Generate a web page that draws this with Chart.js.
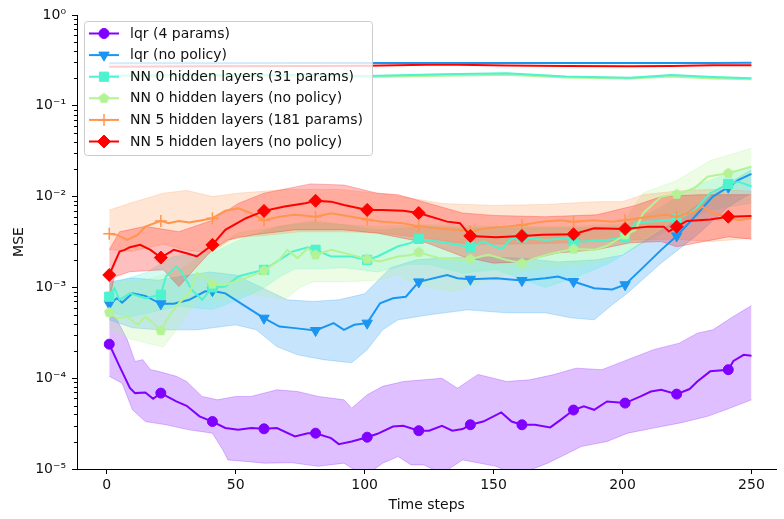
<!DOCTYPE html>
<html>
<head>
<meta charset="utf-8">
<script src="https://cdn.jsdelivr.net/npm/chart.js@4.4.0/dist/chart.umd.min.js"></script>
<style>
  html, body { margin: 0; padding: 0; background: #fff; }
</style>
</head>
<body>
<canvas id="myChart" width="784" height="519"></canvas>
<script>
// ---- data ----
const xTicks = [0, 50, 100, 150, 200, 250];
const yMajor = [1e-5, 1e-4, 1e-3, 1e-2, 1e-1, 1];
const yTickLabels = ['10⁻⁵', '10⁻⁴', '10⁻³', '10⁻²', '10⁻¹', '10⁰'];

// lqr (4 params)
const lqr4X = [1,5,9,11,15,18,21,27,31,36,41,46,51,56,61,66,73,78,81,87,90,95,101,105,111,115,121,125,130,134,138,141,146,153,157,161,166,172,176,181,185,189,194,201,207,211,215,221,226,229,234,241,243,247,250];
const lqr4Y = [2.37e-4,1.35e-4,7.8e-5,6.85e-5,6.97e-5,5.93e-5,6.85e-5,5.55e-5,4.97e-5,3.8e-5,3.33e-5,2.83e-5,2.7e-5,2.82e-5,2.77e-5,2.82e-5,2.28e-5,2.48e-5,2.48e-5,2.19e-5,1.88e-5,2.01e-5,2.24e-5,2.44e-5,2.94e-5,2.99e-5,2.64e-5,2.64e-5,2.99e-5,2.64e-5,2.75e-5,3.07e-5,3.33e-5,4.2e-5,3.33e-5,3.07e-5,3.07e-5,2.87e-5,3.48e-5,4.46e-5,4.9e-5,4.49e-5,5.55e-5,5.32e-5,6.3e-5,7.14e-5,7.45e-5,6.68e-5,7.6e-5,9.2e-5,1.19e-4,1.24e-4,1.55e-4,1.81e-4,1.77e-4];
const lqr4HiX = [1,4,8,11,14,17,20,27,31,37,43,50,56,66,74,82,92,95,101,107,115,123,130,136,144,155,164,173,182,192,202,212,222,229,235,243,250];
const lqr4Hi = [5.2e-4,4.4e-4,2.65e-4,1.53e-4,1.6e-4,1.24e-4,1.19e-4,1.05e-4,9.2e-5,6.3e-5,5.78e-5,6.3e-5,6.3e-5,7.45e-5,7.14e-5,6.3e-5,5.78e-5,4.68e-5,6.56e-5,8.13e-5,9.2e-5,9.6e-5,1.0e-4,7.76e-5,1.1e-4,9.2e-5,9.6e-5,1.09e-4,1.29e-4,1.24e-4,1.6e-4,2.06e-4,2.43e-4,3.13e-4,3.41e-4,4.79e-4,6.3e-4];
const lqr4LoX = [1,6,10,15,23,32,41,45,47,54,61,72,82,92,100,107,113,118,123,130,138,151,158,166,171,179,184,194,202,212,222,233,240,250];
const lqr4Lo = [1.05e-4,8.8e-5,4.49e-5,3.33e-5,3.07e-5,2.7e-5,2.48e-5,1.63e-5,1.26e-5,1.21e-5,1.16e-5,1.17e-5,1.07e-5,1.16e-5,8.3e-6,1.16e-5,1.37e-5,1.11e-5,1.11e-5,8.9e-6,1.26e-5,1.07e-5,8.7e-6,1.02e-5,1.16e-5,1.5e-5,1.77e-5,2.01e-5,2.48e-5,2.82e-5,3.2e-5,3.8e-5,4.49e-5,5.78e-5];

// lqr (no policy)
const lqrNpX = [1,4,6,10,15,21,26,32,38,41,46,54,61,67,73,81,88,92,96,101,106,111,116,121,132,136,141,151,161,170,175,181,189,196,201,207,215,221,228,235,241,245,250];
const lqrNpY = [6.6e-4,7.6e-4,6.8e-4,8.6e-4,8.07e-4,6.6e-4,6.6e-4,7.3e-4,9.0e-4,9.2e-4,8.6e-4,6.15e-4,4.58e-4,3.7e-4,3.56e-4,3.35e-4,4.04e-4,3.41e-4,3.87e-4,4.04e-4,6.7e-4,7.6e-4,7.9e-4,1.15e-3,1.37e-3,1.26e-3,1.23e-3,1.26e-3,1.19e-3,1.26e-3,1.32e-3,1.16e-3,9.8e-4,9.5e-4,1.07e-3,1.56e-3,2.59e-3,3.69e-3,6.0e-3,1.0e-2,1.27e-2,1.53e-2,1.78e-2];
const lqrNpHiX = [1,10,20,30,40,50,60,70,80,90,100,110,120,130,145,160,175,190,200,215,228,240,250];
const lqrNpHi = [1.15e-3,1.27e-3,1.2e-3,1.34e-3,1.48e-3,1.37e-3,1.0e-3,7.3e-4,7.0e-4,7.3e-4,8.5e-4,1.64e-3,2.01e-3,2.11e-3,2.16e-3,2.11e-3,1.91e-3,2.01e-3,2.28e-3,4.3e-3,7.7e-3,1.35e-2,1.97e-2];
const lqrNpLoX = [1,10,20,35,50,58,66,74,84,95,101,107,113,125,140,155,170,180,189,196,202,215,228,241,250];
const lqrNpLo = [4.4e-4,3.59e-4,3.41e-4,3.41e-4,3.87e-4,3.41e-4,2.23e-4,1.81e-4,1.6e-4,1.48e-4,2.06e-4,3.41e-4,4.4e-4,4.99e-4,5.66e-4,5.25e-4,5.25e-4,4.62e-4,4.4e-4,6.43e-4,8.7e-4,1.86e-3,3.6e-3,7.7e-3,1.1e-2];

// NN 0 hidden layers (31 params)
const nn0X = [1,3,5,9,15,21,23,27,29,33,37,41,46,51,56,61,67,72,78,81,87,95,101,105,113,118,121,132,141,146,153,157,161,170,179,181,185,194,201,205,210,217,221,228,234,241,245,250];
const nn0Y = [7.9e-4,9.8e-4,7.3e-4,8.6e-4,7.6e-4,8.3e-4,1.32e-3,1.7e-3,1.49e-3,9.4e-4,7.3e-4,1.0e-3,1.02e-3,1.32e-3,1.44e-3,1.56e-3,2.01e-3,2.48e-3,2.77e-3,2.59e-3,2.19e-3,2.19e-3,2.01e-3,2.19e-3,2.84e-3,3.09e-3,3.42e-3,3.09e-3,2.77e-3,3.2e-3,2.64e-3,3.48e-3,3.57e-3,3.33e-3,3.48e-3,3.2e-3,3.2e-3,3.33e-3,3.57e-3,5.1e-3,5.3e-3,5.5e-3,5.6e-3,7.1e-3,1.09e-2,1.38e-2,1.46e-2,1.29e-2];
const nn0HiX = [1,15,26,41,54,67,80,92,105,124,140,160,180,200,215,228,241,250];
const nn0Hi = [1.1e-3,1.44e-3,2.2e-3,2.4e-3,3.6e-3,4.7e-3,5.2e-3,4.9e-3,4.3e-3,4.7e-3,4.5e-3,4.5e-3,4.5e-3,4.7e-3,7.7e-3,1.3e-2,1.8e-2,2.1e-2];
const nn0LoX = [1,9,28,41,51,60,67,73,80,92,105,117,125,138,151,170,182,195,208,221,234,250];
const nn0Lo = [5.3e-4,4.75e-4,6.2e-4,5.7e-4,7.3e-4,9.5e-4,1.3e-3,1.6e-3,1.6e-3,1.65e-3,1.48e-3,1.8e-3,1.8e-3,1.44e-3,1.56e-3,1.0e-3,1.3e-3,1.85e-3,3.1e-3,4.7e-3,7.1e-3,8.5e-3];

// NN 0 hidden layers (no policy)
const nn0NpX = [1,4,8,12,15,18,21,24,28,32,35,38,41,46,52,61,67,70,74,78,81,87,95,101,106,113,118,121,129,138,141,148,155,161,166,173,181,189,194,201,205,208,215,221,228,233,241,250];
const nn0NpY = [5.3e-4,4.58e-4,4.75e-4,3.87e-4,4.75e-4,4.04e-4,3.35e-4,4.75e-4,6.7e-4,8.6e-4,1.44e-3,1.32e-3,1.09e-3,1.07e-3,1.21e-3,1.53e-3,2.01e-3,2.59e-3,2.1e-3,2.7e-3,2.28e-3,2.59e-3,2.28e-3,2.05e-3,1.93e-3,2.19e-3,2.28e-3,2.44e-3,2.1e-3,2.01e-3,2.05e-3,2.28e-3,2.01e-3,1.85e-3,2.1e-3,2.38e-3,2.64e-3,2.59e-3,2.87e-3,3.79e-3,4.3e-3,6.56e-3,1.0e-2,1.06e-2,1.24e-2,1.66e-2,1.81e-2,2.14e-2];
const nn0NpHiX = [1,15,28,41,51,67,80,92,105,124,150,180,200,208,221,234,250];
const nn0NpHi = [1.1e-3,1.2e-3,1.56e-3,2.6e-3,4.0e-3,4.7e-3,5.5e-3,4.9e-3,4.7e-3,4.9e-3,4.7e-3,4.7e-3,5.0e-3,1.1e-2,1.5e-2,2.5e-2,3.4e-2];
const nn0NpLoX = [1,9,22,28,35,44,54,69,75,80,92,105,113,117,125,135,151,164,189,203,215,228,241,250];
const nn0NpLo = [3.5e-4,2.7e-4,2.2e-4,3.7e-4,7.3e-4,7.3e-4,8.6e-4,7.3e-4,1.0e-3,1.15e-3,1.15e-3,1.2e-3,1.37e-3,1.2e-3,1.0e-3,9.0e-4,1.3e-3,1.56e-3,1.85e-3,2.6e-3,4.7e-3,7.1e-3,1.1e-2,1.3e-2];

// NN 5 hidden layers (181 params)
const nn5X = [1,4,8,12,15,21,24,28,32,37,41,46,51,56,61,67,73,81,87,95,101,107,115,121,128,136,141,147,155,161,169,176,181,189,196,201,210,217,221,228,231,235,241,245,250];
const nn5Y = [3.89e-3,3.79e-3,3.33e-3,3.79e-3,4.67e-3,5.4e-3,5.1e-3,5.4e-3,5.2e-3,5.5e-3,5.78e-3,7.0e-3,7.45e-3,6.56e-3,5.5e-3,6.0e-3,6.3e-3,6.0e-3,6.56e-3,6.0e-3,5.6e-3,5.3e-3,5.1e-3,4.7e-3,4.49e-3,4.3e-3,4.12e-3,4.49e-3,4.67e-3,4.88e-3,5.3e-3,5.5e-3,5.3e-3,5.5e-3,5.3e-3,5.5e-3,6.0e-3,6.3e-3,6.0e-3,6.84e-3,7.76e-3,6.56e-3,6.0e-3,5.5e-3,5.78e-3];
const nn5HiX = [1,9,22,31,41,51,70,90,110,130,150,170,190,200,208,221,235,250];
const nn5Hi = [7.1e-3,8.45e-3,1.09e-2,1.17e-2,1.0e-2,1.09e-2,1.2e-2,1.2e-2,1.05e-2,8.4e-3,8.0e-3,8.2e-3,8.8e-3,8.8e-3,1.05e-2,1.15e-2,1.2e-2,1.15e-2];
const nn5LoX = [1,10,22,30,40,50,60,75,90,105,120,140,160,180,200,220,235,250];
const nn5Lo = [2.6e-3,2.5e-3,3.0e-3,2.6e-3,2.4e-3,3.6e-3,3.7e-3,4.1e-3,4.1e-3,4.0e-3,3.6e-3,3.0e-3,3.0e-3,3.1e-3,3.3e-3,3.4e-3,3.2e-3,3.5e-3];

// NN 5 hidden layers (no policy)
const nn5NpX = [1,3,5,7,9,13,17,21,26,31,35,41,46,54,61,69,77,81,87,92,101,107,115,121,132,137,141,151,161,169,181,189,201,210,216,218,221,225,234,241,250];
const nn5NpY = [1.37e-3,1.85e-3,2.48e-3,2.59e-3,2.77e-3,2.94e-3,2.59e-3,2.13e-3,2.59e-3,2.38e-3,2.19e-3,2.94e-3,4.3e-3,5.78e-3,6.96e-3,7.76e-3,8.45e-3,9.0e-3,8.8e-3,8.1e-3,7.14e-3,7.14e-3,7.0e-3,6.6e-3,5.3e-3,5.1e-3,3.69e-3,3.57e-3,3.69e-3,3.79e-3,3.85e-3,4.49e-3,4.41e-3,4.67e-3,4.67e-3,4.12e-3,4.67e-3,5.4e-3,5.6e-3,6.0e-3,6.1e-3];
const nn5NpHiX = [1,5,15,28,41,51,61,79,92,105,113,125,138,150,170,190,205,215,230,250];
const nn5NpHi = [2.6e-3,4.1e-3,4.7e-3,4.1e-3,5.5e-3,8.4e-3,1.09e-2,1.38e-2,1.34e-2,1.09e-2,1.05e-2,8.4e-3,6.6e-3,6.2e-3,6.0e-3,6.3e-3,8.0e-3,1.0e-2,1.05e-2,1.05e-2];
const nn5NpLoX = [1,3,9,22,28,35,41,47,57,73,92,105,124,138,150,160,175,190,203,215,221,241,250];
const nn5NpLo = [7.3e-4,1.3e-3,1.49e-3,1.56e-3,1.02e-3,1.7e-3,2.59e-3,3.33e-3,3.79e-3,4.3e-3,4.3e-3,3.95e-3,3.1e-3,2.19e-3,1.85e-3,1.9e-3,2.4e-3,2.6e-3,3.1e-3,3.2e-3,2.8e-3,3.6e-3,3.4e-3];

// flat unlabeled lines near the top
const topX = [1,40,80,101,130,155,178,203,219,235,250];
const topBlue = [0.295,0.295,0.296,0.296,0.296,0.296,0.296,0.296,0.296,0.296,0.297];
const topRed = [0.27,0.272,0.274,0.276,0.285,0.277,0.274,0.272,0.275,0.279,0.28];
const topTeal = [0.215,0.218,0.22,0.213,0.222,0.228,0.21,0.204,0.218,0.208,0.201];
const topGreen = [0.21,0.212,0.215,0.208,0.214,0.22,0.205,0.2,0.21,0.2,0.196];

// ---- styling ----
function pentagon(color, r) {
  const c = document.createElement('canvas');
  const s = Math.ceil(r * 2 + 2);
  c.width = c.height = s;
  const g = c.getContext('2d');
  g.fillStyle = color;
  g.beginPath();
  for (let k = 0; k < 5; k++) {
    const a = -Math.PI / 2 + k * 2 * Math.PI / 5;
    g.lineTo(s / 2 + r * Math.cos(a), s / 2 + r * Math.sin(a));
  }
  g.closePath();
  g.fill();
  return c;
}

function alpha(hex, a) {
  const n = parseInt(hex.slice(1), 16);
  return `rgba(${n >> 16},${(n >> 8) & 255},${n & 255},${a})`;
}

const pts = (xs, ys) => xs.map((x, i) => ({ x: x, y: ys[i] }));

const series = [
  { label: 'lqr (4 params)', color: '#8000ff', style: 'circle', r: 5, rot: 0, x: lqr4X, y: lqr4Y, hiX: lqr4HiX, hi: lqr4Hi, loX: lqr4LoX, lo: lqr4Lo },
  { label: 'lqr (no policy)', color: '#1a96f2', style: 'triangle', r: 6, rot: 180, x: lqrNpX, y: lqrNpY, hiX: lqrNpHiX, hi: lqrNpHi, loX: lqrNpLoX, lo: lqrNpLo },
  { label: 'NN 0 hidden layers (31 params)', color: '#4df3ce', style: 'rect', r: 6.5, rot: 0, x: nn0X, y: nn0Y, hiX: nn0HiX, hi: nn0Hi, loX: nn0LoX, lo: nn0Lo },
  { label: 'NN 0 hidden layers (no policy)', color: '#b3f396', style: pentagon('#b3f396', 5.5), r: 5, rot: 0, x: nn0NpX, y: nn0NpY, hiX: nn0NpHiX, hi: nn0NpHi, loX: nn0NpLoX, lo: nn0NpLo },
  { label: 'NN 5 hidden layers (181 params)', color: '#ff964f', style: 'cross', r: 6, rot: 0, x: nn5X, y: nn5Y, hiX: nn5HiX, hi: nn5Hi, loX: nn5LoX, lo: nn5Lo },
  { label: 'NN 5 hidden layers (no policy)', color: '#ff0000', style: 'rectRot', r: 6.5, rot: 0, x: nn5NpX, y: nn5NpY, hiX: nn5NpHiX, hi: nn5NpHi, loX: nn5NpLoX, lo: nn5NpLo }
];

const datasets = [];
series.forEach((s, i) => {
  datasets.push({
    data: pts(s.loX, s.lo), borderColor: alpha(s.color, 0.25), borderWidth: 1,
    pointRadius: 0, fill: false, order: 106 - i
  });
  datasets.push({
    data: pts(s.hiX, s.hi), borderColor: alpha(s.color, 0.25), borderWidth: 1,
    backgroundColor: alpha(s.color, 0.25), pointRadius: 0, fill: '-1', order: 106 - i
  });
});

[[topGreen, '#b3f396'], [topTeal, '#4df3ce'], [topRed, '#ff0000'], [topBlue, '#1a96f2']].forEach((t, i) => {
  datasets.push({
    data: pts(topX, t[0]), borderColor: t[1], borderWidth: 2, pointRadius: 0, fill: false, order: 50 - i
  });
});

series.forEach((s, i) => {
  datasets.push({
    label: s.label,
    data: pts(s.x, s.y),
    borderColor: s.color,
    borderWidth: 2,
    fill: false,
    pointStyle: s.style,
    rotation: s.rot,
    pointRadius: c => (c.raw && (c.raw.x - 1) % 20 === 0) ? s.r : 0,
    pointBackgroundColor: s.color,
    pointBorderColor: s.color,
    pointBorderWidth: s.style === 'cross' ? 1.5 : 1,
    order: 10 - i
  });
});

const yMinor = [];
for (let k = -5; k < 0; k++) {
  for (let m = 2; m <= 9; m++) yMinor.push(m * Math.pow(10, k));
}

const minorTicks = {
  id: 'minorTicks',
  afterDraw(chart) {
    const y = chart.scales.y, ctx = chart.ctx, left = chart.chartArea.left;
    ctx.save();
    ctx.strokeStyle = '#000';
    ctx.lineWidth = 1;
    yMinor.forEach(v => {
      const py = Math.round(y.getPixelForValue(v)) + 0.5;
      ctx.beginPath();
      ctx.moveTo(left - 3, py);
      ctx.lineTo(left, py);
      ctx.stroke();
    });
    ctx.restore();
  }
};

// legend box drawn inside the plot, like matplotlib's upper left legend
const boxLegend = {
  id: 'boxLegend',
  afterDraw(chart) {
    const ctx = chart.ctx;
    const bx = 84.5, by = 21.5, bw = 288, bh = 134, rad = 3;
    ctx.save();
    ctx.beginPath();
    ctx.moveTo(bx + rad, by);
    ctx.arcTo(bx + bw, by, bx + bw, by + bh, rad);
    ctx.arcTo(bx + bw, by + bh, bx, by + bh, rad);
    ctx.arcTo(bx, by + bh, bx, by, rad);
    ctx.arcTo(bx, by, bx + bw, by, rad);
    ctx.closePath();
    ctx.fillStyle = 'rgba(255,255,255,0.8)';
    ctx.fill();
    ctx.strokeStyle = '#cccccc';
    ctx.lineWidth = 1;
    ctx.stroke();
    series.forEach((s, i) => {
      const cy = 33.5 + i * 21.6;
      ctx.strokeStyle = s.color;
      ctx.lineWidth = 2;
      ctx.beginPath();
      ctx.moveTo(89, cy);
      ctx.lineTo(119, cy);
      ctx.stroke();
      ctx.fillStyle = s.color;
      ctx.lineWidth = s.style === 'cross' ? 1.5 : 1;
      Chart.helpers.drawPoint(ctx, { pointStyle: s.style, radius: s.r, rotation: s.rot, borderWidth: ctx.lineWidth }, 104, cy);
      ctx.fillStyle = '#111';
      ctx.font = '14px "DejaVu Sans"';
      ctx.textBaseline = 'middle';
      ctx.textAlign = 'left';
      ctx.fillText(s.label, 130, cy + 0.5);
    });
    ctx.restore();
  }
};

Chart.defaults.font.family = '"DejaVu Sans", sans-serif';
Chart.defaults.font.size = 14;
Chart.defaults.color = '#111';

const ctx = document.getElementById('myChart').getContext('2d');
const myChart = new Chart(ctx, {
  type: 'line',
  data: { datasets: datasets },
  options: {
    responsive: false,
    animation: false,
    devicePixelRatio: 1,
    layout: { padding: { top: 15, right: 0, bottom: 0, left: 0 } },
    elements: { line: { tension: 0 } },
    plugins: { legend: { display: false }, tooltip: { enabled: false } },
    scales: {
      x: {
        type: 'linear',
        min: -11.5,
        max: 259.7,
        afterBuildTicks: s => { s.ticks = xTicks.map(v => ({ value: v })); },
        afterFit: s => { s.height = 50; },
        ticks: { padding: 3, color: '#111', maxRotation: 0 },
        grid: { drawOnChartArea: false, tickLength: 5, tickColor: '#000' },
        border: { color: '#000', width: 1 },
        title: { display: true, text: 'Time steps', color: '#111', padding: { top: 0, bottom: 5 } }
      },
      y: {
        type: 'logarithmic',
        min: 1e-5,
        max: 1,
        afterBuildTicks: s => { s.ticks = yMajor.map(v => ({ value: v })); },
        afterFit: s => { s.width = 77; },
        ticks: {
          padding: 6,
          color: '#111',
          autoSkip: false,
          callback: v => { const k = yMajor.indexOf(v); return k >= 0 ? yTickLabels[k] : ''; }
        },
        grid: { drawOnChartArea: false, tickLength: 5, tickColor: '#000' },
        border: { color: '#000', width: 1 },
        title: { display: true, text: 'MSE', color: '#111', padding: { top: 11, bottom: 0 } }
      }
    }
  },
  plugins: [minorTicks, boxLegend]
});
</script>
</body>
</html>
